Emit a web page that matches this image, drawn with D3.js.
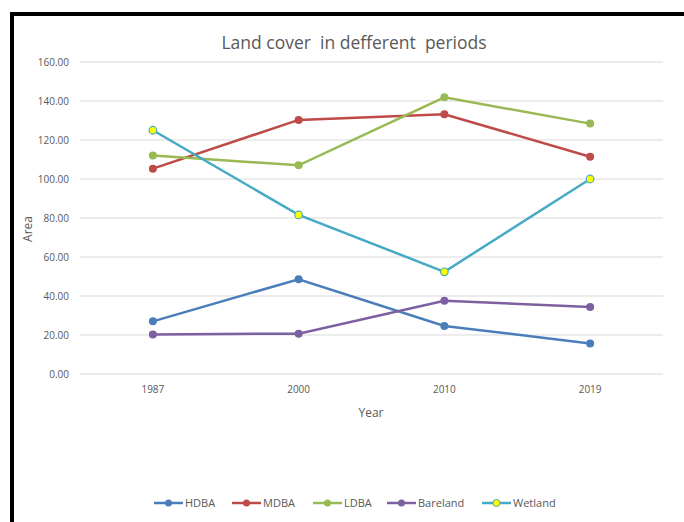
<!DOCTYPE html>
<html><head><meta charset="utf-8">
<script src="https://cdn.jsdelivr.net/npm/d3@7"></script>
<style>body{margin:0;background:#fff}svg{display:block}text{font-family:"Open Sans",sans-serif}</style>
</head><body><svg id="c" width="684" height="522"></svg>
<script>
const years = ["1987","2000","2010","2019"];
const seriesNames = ["HDBA","MDBA","LDBA","Bareland","Wetland"];
const HDBA = [27.0, 48.6, 24.6, 15.7];
const MDBA = [105.3, 130.3, 133.2, 111.4];
const LDBA = [112.1, 107.0, 141.9, 128.4];
const Bareland = [20.3, 20.7, 37.6, 34.4];
const Wetland = [125.0, 81.6, 52.4, 100.0];
const yTicks = [0,20,40,60,80,100,120,140,160];
const colors = ["#4a7ebb","#be4b48","#98b954","#7d60a0","#46aac5"];
const title = "Land cover  in defferent  periods";

const data = [HDBA, MDBA, LDBA, Bareland, Wetland];
const svg = d3.select("#c");
// border
svg.append("path").attr("d","M12,522 V14 H684").attr("fill","none").attr("stroke","#000").attr("stroke-width",4);

const x = d3.scaleBand().domain(years).range([80,663]);
const y = d3.scaleLinear().domain([0,160]).range([374,62]);

// gridlines
svg.append("g").selectAll("line").data(yTicks).join("line")
  .attr("x1",80).attr("x2",663).attr("y1",d=>y(d)).attr("y2",d=>y(d))
  .attr("stroke","#d9d9d9").attr("stroke-width",1);

// y axis labels
const ya = svg.append("g").attr("transform","translate(80,0)")
  .call(d3.axisLeft(y).tickValues(yTicks).tickFormat(d3.format(".2f")).tickSize(0).tickPadding(11));
ya.select(".domain").remove();
ya.selectAll("text").attr("fill","#595959").style("font-size","10px").style("font-family","'Open Sans',sans-serif");

// x axis
const xa = svg.append("g").attr("transform","translate(0,374)")
  .call(d3.axisBottom(x).tickSize(0).tickPadding(12));
xa.select(".domain").remove();
xa.selectAll("text").attr("fill","#595959").style("font-size","10px").style("font-family","'Open Sans',sans-serif");

svg.append("text").attr("x",371).attr("y",417).attr("text-anchor","middle").attr("fill","#595959").style("font-size","12px").text("Year");
svg.append("text").attr("transform","translate(32,229) rotate(-90)").attr("text-anchor","middle").attr("fill","#595959").style("font-size","12px").text("Area");
svg.append("text").attr("x",354).attr("y",49).attr("text-anchor","middle").attr("fill","#595959").style("font-size","17.5px").style("white-space","pre").text(title);

const line = d3.line().x((d,i)=>x(years[i])+x.bandwidth()/2).y(d=>y(d));
data.forEach((vals,k)=>{
  const g = svg.append("g");
  g.append("path").attr("d",line(vals)).attr("fill","none").attr("stroke",colors[k]).attr("stroke-width",2.5);
  g.selectAll("circle").data(vals).join("circle")
    .attr("cx",(d,i)=>x(years[i])+x.bandwidth()/2).attr("cy",d=>y(d)).attr("r",k===4?3.8:4)
    .attr("fill",k===4?"#ffff00":colors[k]).attr("stroke",colors[k]).attr("stroke-width",k===4?1.2:0);
});

// legend
const legX = [154,232,313,387,482];
const lg = svg.append("g");
seriesNames.forEach((n,k)=>{
  const gx = legX[k], gy = 503;
  lg.append("line").attr("x1",gx).attr("x2",gx+29).attr("y1",gy).attr("y2",gy).attr("stroke",colors[k]).attr("stroke-width",2.5);
  lg.append("circle").attr("cx",gx+14.5).attr("cy",gy).attr("r",3.5).attr("fill",k===4?"#ffff00":colors[k]).attr("stroke",colors[k]).attr("stroke-width",k===4?1:0);
  lg.append("text").attr("x",gx+31).attr("y",gy+4).attr("fill","#595959").style("font-size","11px").text(n);
});
</script></body></html>
